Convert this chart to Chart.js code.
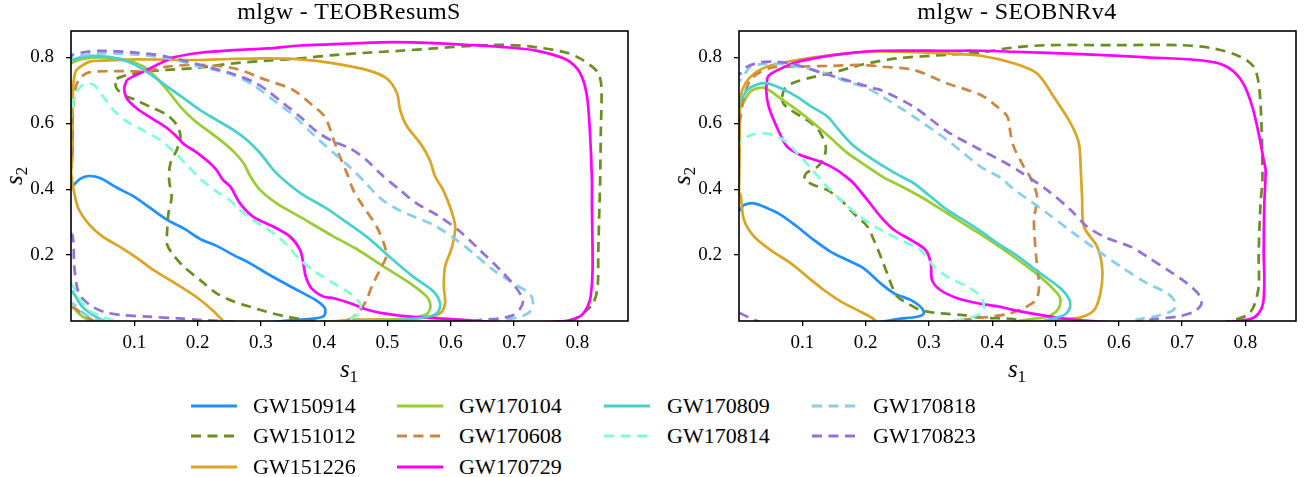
<!DOCTYPE html>
<html><head><meta charset="utf-8">
<script src="https://cdn.jsdelivr.net/npm/chart.js@4/dist/chart.umd.min.js"></script>
<style>
body{margin:0;background:#fff;width:1307px;height:477px;overflow:hidden;position:relative;font-family:"Liberation Serif",serif;color:#000}
.panel{position:absolute;top:0;width:650px;height:361px}
.title{position:absolute;top:-1px;font-size:24px;line-height:24px;white-space:nowrap;transform:translateX(-50%);letter-spacing:0.4px}
.xlab{position:absolute;top:357px;font-size:25px;line-height:24px;white-space:nowrap;transform:translateX(-50%)}
.ylab{position:absolute;font-size:25px;line-height:24px;white-space:nowrap;transform:translate(-50%,-50%) rotate(-90deg)}
.xlab i,.ylab i{font-style:italic}
.xlab sub,.ylab sub{font-size:17px;vertical-align:-5px;line-height:0}
.leg{position:absolute;font-size:22px;line-height:22px;white-space:nowrap}
.legline{position:absolute}
</style></head>
<body>
<div class="panel" style="left:0"><canvas id="c0" width="650" height="361"></canvas></div>
<div class="panel" style="left:668px"><canvas id="c1" width="650" height="361"></canvas></div>
<div id="labels"></div>
<script>
// ---------- data ----------
const xTicks = [0.1, 0.2, 0.3, 0.4, 0.5, 0.6, 0.7, 0.8];
const yTicks = [0.2, 0.4, 0.6, 0.8];
const events = ['GW150914','GW151012','GW151226','GW170104','GW170608','GW170729','GW170809','GW170814','GW170818','GW170823'];
const panelTitles = ['mlgw - TEOBResumS', 'mlgw - SEOBNRv4'];
const axisRange = [0, 0.88];

// contour paths (s1, s2) — left panel: TEOBResumS
const teob_GW150914 = [[-0.01,0.38],[0.003,0.41],[0.015,0.432],[0.028,0.44],[0.046,0.434],[0.072,0.405],[0.099,0.378],[0.125,0.343],[0.152,0.307],[0.178,0.281],[0.204,0.249],[0.23,0.228],[0.257,0.2],[0.283,0.175],[0.309,0.145],[0.336,0.116],[0.362,0.089],[0.388,0.062],[0.401,0.039],[0.4,0.016],[0.383,0.007],[0.35,0.003],[0.3,-0.006],[0.15,-0.01],[0.02,-0.008],[-0.01,0.0],[-0.015,0.2],[-0.01,0.38]];
const teob_GW151012 = [[0.072,0.736],[0.088,0.746],[0.115,0.756],[0.152,0.762],[0.204,0.769],[0.257,0.782],[0.309,0.79],[0.362,0.797],[0.415,0.807],[0.467,0.814],[0.52,0.82],[0.573,0.827],[0.625,0.834],[0.678,0.838],[0.73,0.832],[0.783,0.814],[0.804,0.797],[0.82,0.777],[0.833,0.752],[0.838,0.711],[0.837,0.569],[0.836,0.428],[0.835,0.357],[0.833,0.205],[0.832,0.104],[0.825,0.054],[0.809,0.023],[0.794,0.006],[0.75,-0.01],[0.45,-0.01],[0.362,0.006],[0.336,0.015],[0.309,0.028],[0.283,0.043],[0.257,0.059],[0.23,0.084],[0.204,0.124],[0.178,0.165],[0.162,0.2],[0.152,0.231],[0.152,0.276],[0.154,0.327],[0.159,0.377],[0.155,0.428],[0.157,0.478],[0.167,0.519],[0.173,0.559],[0.167,0.595],[0.152,0.625],[0.125,0.65],[0.099,0.673],[0.083,0.686],[0.072,0.706],[0.07,0.726],[0.072,0.736]];
const teob_GW151226 = [[0.0,0.45],[0.004,0.4],[0.012,0.34],[0.03,0.29],[0.05,0.256],[0.08,0.222],[0.105,0.19],[0.13,0.155],[0.16,0.12],[0.185,0.09],[0.207,0.06],[0.225,0.03],[0.238,0.005],[0.25,-0.01],[0.35,-0.01],[0.45,0.004],[0.52,0.006],[0.562,0.011],[0.583,0.023],[0.591,0.054],[0.589,0.104],[0.591,0.165],[0.602,0.225],[0.607,0.286],[0.6,0.34],[0.588,0.397],[0.575,0.44],[0.567,0.488],[0.552,0.539],[0.531,0.59],[0.52,0.64],[0.515,0.691],[0.499,0.736],[0.467,0.762],[0.415,0.782],[0.362,0.794],[0.309,0.797],[0.25,0.795],[0.204,0.792],[0.15,0.793],[0.099,0.794],[0.05,0.79],[0.03,0.787],[0.015,0.772],[0.007,0.756],[0.003,0.7],[0.0025,0.6],[0.0025,0.5],[0.0,0.45]];
const teob_GW170104 = [[-0.01,0.77],[0.0005,0.782],[0.015,0.794],[0.046,0.8],[0.088,0.792],[0.115,0.772],[0.136,0.736],[0.152,0.701],[0.173,0.65],[0.194,0.61],[0.215,0.579],[0.236,0.549],[0.257,0.514],[0.273,0.478],[0.283,0.44],[0.299,0.397],[0.325,0.357],[0.362,0.316],[0.415,0.256],[0.45,0.22],[0.494,0.165],[0.536,0.114],[0.562,0.074],[0.568,0.043],[0.562,0.021],[0.541,0.01],[0.52,0.006],[0.45,0.0],[0.3,-0.01],[0.05,-0.01],[0.028,0.003],[0.015,0.018],[0.002,0.043],[-0.01,0.05],[-0.015,0.5],[-0.01,0.77]];
const teob_GW170608 = [[-0.005,0.45],[0.0016,0.509],[0.003,0.63],[0.007,0.706],[0.015,0.739],[0.03,0.755],[0.072,0.758],[0.12,0.759],[0.152,0.772],[0.204,0.777],[0.257,0.767],[0.309,0.731],[0.351,0.701],[0.383,0.652],[0.399,0.625],[0.407,0.595],[0.415,0.549],[0.425,0.498],[0.436,0.448],[0.446,0.397],[0.462,0.347],[0.483,0.286],[0.496,0.225],[0.498,0.195],[0.488,0.155],[0.475,0.104],[0.467,0.064],[0.457,0.033],[0.441,0.006],[0.4,-0.01],[0.05,-0.01],[0.023,0.016],[0.005,0.04],[-0.01,0.05],[-0.005,0.45]];
const teob_GW170729 = [[0.088,0.731],[0.084,0.706],[0.088,0.676],[0.104,0.645],[0.13,0.612],[0.152,0.585],[0.167,0.559],[0.178,0.537],[0.199,0.511],[0.217,0.483],[0.23,0.458],[0.24,0.428],[0.252,0.407],[0.267,0.357],[0.288,0.316],[0.32,0.286],[0.346,0.256],[0.362,0.215],[0.367,0.175],[0.371,0.134],[0.38,0.099],[0.399,0.074],[0.415,0.069],[0.441,0.054],[0.467,0.035],[0.494,0.023],[0.52,0.016],[0.573,0.009],[0.63,0.002],[0.7,-0.006],[0.78,0.0],[0.796,0.006],[0.807,0.018],[0.816,0.043],[0.821,0.074],[0.824,0.155],[0.823,0.357],[0.823,0.428],[0.82,0.569],[0.816,0.67],[0.81,0.726],[0.799,0.767],[0.778,0.797],[0.73,0.822],[0.678,0.832],[0.625,0.838],[0.573,0.843],[0.509,0.846],[0.467,0.844],[0.415,0.84],[0.362,0.836],[0.309,0.827],[0.257,0.822],[0.204,0.814],[0.162,0.8],[0.141,0.782],[0.12,0.762],[0.099,0.743],[0.088,0.731]];
const teob_GW170809 = [[-0.01,0.78],[0.0005,0.79],[0.02,0.802],[0.046,0.804],[0.072,0.797],[0.099,0.78],[0.125,0.749],[0.152,0.711],[0.178,0.676],[0.204,0.64],[0.23,0.61],[0.257,0.579],[0.278,0.549],[0.299,0.509],[0.32,0.458],[0.338,0.425],[0.365,0.385],[0.399,0.347],[0.415,0.327],[0.467,0.256],[0.509,0.185],[0.541,0.134],[0.573,0.089],[0.583,0.054],[0.58,0.028],[0.57,0.016],[0.546,0.008],[0.5,0.0],[0.2,-0.01],[0.055,0.0],[0.039,0.013],[0.018,0.043],[0.002,0.089],[-0.01,0.1],[-0.015,0.5],[-0.01,0.78]];
const teob_GW170814 = [[-0.005,0.6],[0.0016,0.63],[0.005,0.68],[0.014,0.709],[0.025,0.721],[0.037,0.715],[0.051,0.68],[0.067,0.64],[0.088,0.605],[0.115,0.577],[0.141,0.549],[0.162,0.514],[0.183,0.473],[0.205,0.43],[0.228,0.395],[0.25,0.368],[0.267,0.337],[0.288,0.306],[0.32,0.266],[0.341,0.231],[0.362,0.185],[0.388,0.147],[0.415,0.114],[0.441,0.084],[0.456,0.054],[0.457,0.028],[0.441,0.006],[0.4,-0.01],[0.07,-0.005],[0.065,0.003],[0.049,0.013],[0.028,0.033],[0.013,0.069],[0.002,0.109],[-0.01,0.12],[-0.005,0.6]];
const teob_GW170818 = [[-0.01,0.79],[0.0005,0.8],[0.046,0.812],[0.099,0.809],[0.152,0.797],[0.204,0.772],[0.257,0.746],[0.288,0.716],[0.32,0.67],[0.351,0.625],[0.383,0.565],[0.415,0.51],[0.441,0.466],[0.465,0.42],[0.49,0.37],[0.52,0.335],[0.573,0.291],[0.609,0.246],[0.636,0.205],[0.667,0.155],[0.699,0.114],[0.725,0.082],[0.73,0.054],[0.725,0.028],[0.71,0.013],[0.689,0.005],[0.65,-0.01],[0.1,-0.01],[0.039,0.005],[0.018,0.026],[0.002,0.054],[-0.01,0.06],[-0.015,0.5],[-0.01,0.79]];
const teob_GW170823 = [[-0.01,0.8],[0.0,0.807],[0.025,0.817],[0.046,0.82],[0.099,0.815],[0.152,0.802],[0.204,0.777],[0.257,0.749],[0.288,0.726],[0.309,0.701],[0.336,0.66],[0.362,0.62],[0.388,0.575],[0.415,0.544],[0.441,0.524],[0.467,0.488],[0.49,0.445],[0.52,0.397],[0.546,0.357],[0.583,0.316],[0.615,0.271],[0.646,0.215],[0.678,0.155],[0.702,0.104],[0.714,0.064],[0.71,0.039],[0.699,0.018],[0.678,0.008],[0.646,0.003],[0.6,-0.005],[0.3,-0.005],[0.207,0.003],[0.17,0.008],[0.123,0.013],[0.081,0.018],[0.055,0.026],[0.034,0.043],[0.018,0.069],[0.01,0.099],[0.005,0.17],[0.002,0.261],[-0.01,0.27],[-0.015,0.5],[-0.01,0.8]];

// right panel: SEOBNRv4
const seob_GW150914 = [[-0.01,0.32],[0.0014,0.337],[0.008,0.352],[0.024,0.357],[0.045,0.342],[0.066,0.322],[0.092,0.286],[0.118,0.246],[0.145,0.21],[0.171,0.185],[0.197,0.16],[0.224,0.114],[0.245,0.084],[0.271,0.064],[0.287,0.043],[0.292,0.023],[0.282,0.013],[0.25,0.006],[0.2,-0.01],[0.0,-0.01],[-0.01,0.1],[-0.01,0.32]];
const seob_GW151012 = [[0.068,0.68],[0.072,0.705],[0.085,0.722],[0.11,0.737],[0.145,0.752],[0.197,0.779],[0.25,0.797],[0.329,0.808],[0.382,0.815],[0.434,0.83],[0.487,0.837],[0.592,0.837],[0.698,0.837],[0.75,0.827],[0.792,0.802],[0.813,0.772],[0.821,0.721],[0.825,0.62],[0.827,0.428],[0.824,0.357],[0.821,0.205],[0.821,0.104],[0.813,0.043],[0.803,0.018],[0.787,0.006],[0.75,-0.01],[0.45,-0.005],[0.434,0.006],[0.382,0.01],[0.355,0.018],[0.318,0.023],[0.287,0.033],[0.266,0.054],[0.25,0.074],[0.242,0.104],[0.234,0.145],[0.224,0.195],[0.213,0.246],[0.203,0.286],[0.181,0.327],[0.161,0.367],[0.14,0.397],[0.118,0.413],[0.104,0.428],[0.106,0.448],[0.124,0.468],[0.134,0.494],[0.137,0.529],[0.129,0.569],[0.118,0.595],[0.103,0.615],[0.082,0.64],[0.07,0.66],[0.068,0.68]];
const seob_GW151226 = [[0.0,0.39],[0.0025,0.382],[0.008,0.306],[0.024,0.256],[0.05,0.215],[0.082,0.175],[0.108,0.134],[0.134,0.094],[0.161,0.059],[0.187,0.033],[0.213,0.006],[0.22,-0.01],[0.45,-0.01],[0.513,0.006],[0.54,0.011],[0.561,0.033],[0.571,0.084],[0.574,0.155],[0.566,0.225],[0.545,0.286],[0.542,0.377],[0.54,0.458],[0.537,0.539],[0.524,0.6],[0.497,0.681],[0.471,0.751],[0.434,0.782],[0.382,0.805],[0.329,0.812],[0.224,0.818],[0.197,0.816],[0.145,0.807],[0.092,0.792],[0.066,0.782],[0.045,0.772],[0.024,0.751],[0.01,0.721],[0.0025,0.681],[0.0014,0.615],[0.001,0.5],[0.0,0.39]];
const seob_GW170104 = [[-0.01,0.64],[0.0025,0.65],[0.018,0.696],[0.039,0.708],[0.066,0.675],[0.092,0.64],[0.118,0.6],[0.145,0.555],[0.171,0.51],[0.203,0.468],[0.229,0.435],[0.25,0.415],[0.287,0.377],[0.329,0.327],[0.371,0.276],[0.4,0.24],[0.434,0.195],[0.476,0.134],[0.503,0.084],[0.508,0.064],[0.503,0.033],[0.487,0.013],[0.461,0.006],[0.4,-0.01],[0.05,-0.01],[-0.01,0.0],[-0.015,0.3],[-0.01,0.64]];
const seob_GW170608 = [[-0.005,0.55],[0.0025,0.62],[0.008,0.681],[0.018,0.731],[0.034,0.756],[0.055,0.77],[0.092,0.772],[0.145,0.774],[0.197,0.777],[0.224,0.772],[0.276,0.762],[0.329,0.721],[0.382,0.686],[0.408,0.65],[0.424,0.62],[0.429,0.569],[0.434,0.529],[0.45,0.468],[0.461,0.433],[0.471,0.377],[0.466,0.306],[0.469,0.205],[0.474,0.104],[0.469,0.064],[0.45,0.039],[0.424,0.021],[0.397,0.013],[0.382,0.01],[0.355,0.004],[0.3,-0.01],[0.05,-0.01],[-0.01,0.0],[-0.01,0.3],[-0.005,0.55]];
const seob_GW170729 = [[0.045,0.741],[0.043,0.7],[0.047,0.65],[0.062,0.579],[0.076,0.529],[0.097,0.504],[0.129,0.483],[0.155,0.458],[0.171,0.435],[0.181,0.418],[0.203,0.367],[0.224,0.316],[0.245,0.276],[0.276,0.241],[0.295,0.215],[0.303,0.175],[0.305,0.124],[0.318,0.094],[0.345,0.069],[0.382,0.052],[0.413,0.043],[0.434,0.033],[0.487,0.015],[0.519,0.006],[0.6,-0.005],[0.75,-0.005],[0.808,0.006],[0.821,0.023],[0.828,0.054],[0.83,0.124],[0.829,0.205],[0.83,0.357],[0.832,0.458],[0.829,0.488],[0.821,0.569],[0.811,0.65],[0.798,0.716],[0.782,0.756],[0.761,0.78],[0.724,0.792],[0.645,0.8],[0.54,0.81],[0.434,0.817],[0.382,0.82],[0.329,0.82],[0.224,0.82],[0.171,0.812],[0.118,0.797],[0.085,0.782],[0.065,0.765],[0.052,0.752],[0.045,0.741]];
const seob_GW170809 = [[-0.01,0.66],[0.0025,0.67],[0.013,0.701],[0.029,0.718],[0.045,0.721],[0.066,0.706],[0.092,0.68],[0.113,0.652],[0.14,0.62],[0.158,0.579],[0.181,0.532],[0.213,0.488],[0.245,0.45],[0.276,0.418],[0.303,0.377],[0.329,0.337],[0.355,0.306],[0.382,0.272],[0.413,0.23],[0.434,0.205],[0.476,0.145],[0.508,0.099],[0.521,0.069],[0.523,0.043],[0.516,0.021],[0.497,0.008],[0.45,-0.01],[0.05,-0.01],[-0.01,0.0],[-0.015,0.3],[-0.01,0.66]];
const seob_GW170814 = [[-0.005,0.52],[0.0014,0.539],[0.013,0.559],[0.029,0.569],[0.05,0.567],[0.071,0.549],[0.092,0.509],[0.113,0.465],[0.134,0.418],[0.161,0.367],[0.192,0.316],[0.224,0.276],[0.255,0.246],[0.287,0.215],[0.308,0.165],[0.329,0.134],[0.361,0.104],[0.382,0.074],[0.387,0.043],[0.382,0.023],[0.361,0.008],[0.3,-0.01],[0.05,-0.01],[-0.01,0.0],[-0.01,0.3],[-0.005,0.52]];
const seob_GW170818 = [[-0.01,0.72],[0.0025,0.731],[0.018,0.772],[0.039,0.78],[0.066,0.78],[0.092,0.772],[0.118,0.762],[0.145,0.746],[0.171,0.726],[0.197,0.711],[0.224,0.684],[0.276,0.62],[0.329,0.549],[0.382,0.468],[0.413,0.435],[0.434,0.4],[0.487,0.327],[0.529,0.266],[0.566,0.215],[0.603,0.165],[0.645,0.114],[0.677,0.084],[0.69,0.054],[0.686,0.033],[0.666,0.018],[0.634,0.006],[0.6,-0.01],[0.05,-0.01],[-0.01,0.0],[-0.015,0.4],[-0.01,0.72]];
const seob_GW170823 = [[-0.01,0.74],[0.0025,0.751],[0.013,0.772],[0.034,0.785],[0.055,0.787],[0.082,0.782],[0.108,0.767],[0.134,0.751],[0.161,0.736],[0.187,0.721],[0.213,0.706],[0.224,0.701],[0.276,0.65],[0.329,0.575],[0.382,0.519],[0.413,0.488],[0.44,0.458],[0.487,0.397],[0.524,0.337],[0.55,0.286],[0.582,0.251],[0.619,0.225],[0.645,0.195],[0.677,0.155],[0.708,0.114],[0.729,0.074],[0.73,0.049],[0.719,0.028],[0.692,0.013],[0.656,0.006],[0.6,-0.01],[0.05,-0.01],[0.024,0.003],[0.0025,0.023],[-0.01,0.03],[-0.015,0.4],[-0.01,0.74]];

const teobContours = [teob_GW150914, teob_GW151012, teob_GW151226, teob_GW170104, teob_GW170608, teob_GW170729, teob_GW170809, teob_GW170814, teob_GW170818, teob_GW170823];
const seobContours = [seob_GW150914, seob_GW151012, seob_GW151226, seob_GW170104, seob_GW170608, seob_GW170729, seob_GW170809, seob_GW170814, seob_GW170818, seob_GW170823];

// ---------- styles ----------
const lineColors = ['#1E90FF','#6B8E23','#DAA520','#9ACD32','#CD853F','#FF00FF','#48D1CC','#7FFFD4','#87CEEB','#9370DB'];
const isDashed = [false,true,false,false,true,false,false,true,true,true];
const DASH = [10, 6.5];
const LW = 2.7;
const FONT = '"Liberation Serif", serif';

const framePlugin = {
  id: 'frame',
  afterDatasetsDraw(chart) {
    const a = chart.chartArea, c = chart.ctx;
    c.save(); c.strokeStyle = '#000'; c.lineWidth = 1.6;
    c.strokeRect(a.left, a.top, a.right - a.left, a.bottom - a.top);
    c.restore();
  }
};

function axisOpts(ticksArr, isX) {
  return {
    type: 'linear', min: axisRange[0], max: axisRange[1],
    afterBuildTicks: s => { s.ticks = ticksArr.map(v => ({ value: v })); },
    afterFit: s => { if (isX) s.height = 40; else s.width = 71; },
    grid: { display: true, drawOnChartArea: false, drawTicks: true, tickLength: 5, color: '#000', lineWidth: 1.3 },
    border: { display: false },
    ticks: { color: '#000', autoSkip: false, maxRotation: 0, padding: isX ? 6 : 12,
      font: { family: FONT, size: 19 }, callback: v => Number(v).toFixed(1) }
  };
}

function makePanel(id, contours) {
  const datasets = contours.map((pts, i) => ({
    label: events[i],
    data: pts.map(([x, y]) => ({ x, y })),
    showLine: true, fill: false,
    borderColor: lineColors[i], backgroundColor: lineColors[i],
    borderWidth: LW, borderDash: isDashed[i] ? DASH : [],
    borderJoinStyle: 'round',
    pointRadius: 0, pointHoverRadius: 0, tension: 0.3, clip: 0,
    order: 10 - i
  }));
  new Chart(document.getElementById(id), {
    type: 'scatter',
    data: { datasets },
    options: {
      responsive: false, animation: false, devicePixelRatio: 1, events: [],
      layout: { padding: { top: 31, right: 22, bottom: 0, left: 0 } },
      plugins: { legend: { display: false }, tooltip: { enabled: false } },
      scales: { x: axisOpts(xTicks, true), y: axisOpts(yTicks, false) }
    },
    plugins: [framePlugin]
  });
}

makePanel('c0', teobContours);
makePanel('c1', seobContours);

// ---------- text: titles, axis labels, legend ----------
const lab = document.getElementById('labels');
const panelCenters = [349, 1017];
const yLabelX = [14, 682];
panelTitles.forEach((t, i) => {
  const d = document.createElement('div'); d.className = 'title'; d.style.left = panelCenters[i] + 'px'; d.textContent = t; lab.appendChild(d);
  const xl = document.createElement('div'); xl.className = 'xlab'; xl.style.left = panelCenters[i] + 'px';
  xl.innerHTML = '<i>s</i><sub>1</sub>'; lab.appendChild(xl);
  const yl = document.createElement('div'); yl.className = 'ylab'; yl.style.left = yLabelX[i] + 'px'; yl.style.top = '176px';
  yl.innerHTML = '<i>s</i><sub>2</sub>'; lab.appendChild(yl);
});

const legendCols = [[0,1,2],[3,4,5],[6,7],[8,9]];
const legLineX = [191, 397, 604, 812];
const legTextX = [253, 459, 667, 873];
const legRowY = [405.7, 436, 466.7];
legendCols.forEach((col, ci) => {
  col.forEach((k, ri) => {
    const y = legRowY[ri];
    const svgNS = 'http://www.w3.org/2000/svg';
    const svg = document.createElementNS(svgNS, 'svg');
    svg.setAttribute('width', '46'); svg.setAttribute('height', '10');
    svg.setAttribute('class', 'legline');
    svg.style.left = legLineX[ci] + 'px'; svg.style.top = (y - 5) + 'px';
    const ln = document.createElementNS(svgNS, 'line');
    ln.setAttribute('x1', '0'); ln.setAttribute('y1', '5'); ln.setAttribute('x2', '46'); ln.setAttribute('y2', '5');
    ln.setAttribute('stroke', lineColors[k]); ln.setAttribute('stroke-width', '2.8');
    if (isDashed[k]) ln.setAttribute('stroke-dasharray', DASH.join(' '));
    svg.appendChild(ln); lab.appendChild(svg);
    const t = document.createElement('div'); t.className = 'leg';
    t.style.left = legTextX[ci] + 'px'; t.style.top = (y - 11.1) + 'px';
    t.textContent = events[k]; lab.appendChild(t);
  });
});
</script>
</body></html>
